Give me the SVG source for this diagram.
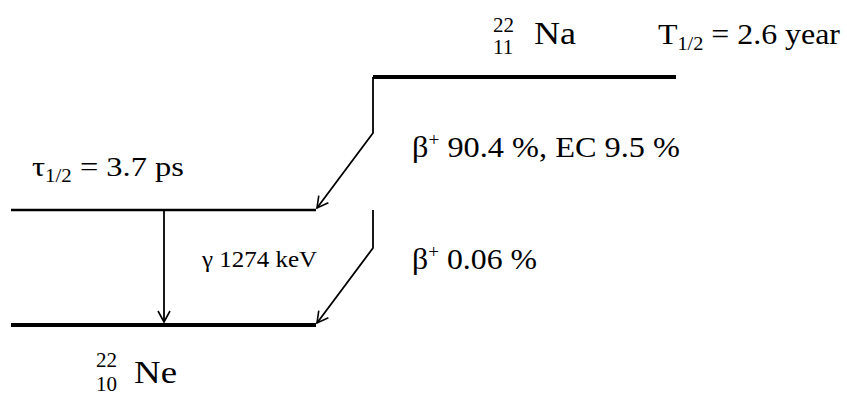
<svg xmlns="http://www.w3.org/2000/svg" width="847" height="396" viewBox="0 0 847 396" font-family="'Liberation Serif', 'Times New Roman', serif">
<defs>
<marker id="ah" markerUnits="userSpaceOnUse" markerWidth="14" markerHeight="14" viewBox="0 0 14 14" refX="12" refY="7" orient="auto">
<path d="M1,1 L12,7 L1,13" fill="none" stroke="#000" stroke-width="1.6"/>
</marker>
<style>
text{font-family:'Liberation Serif','Times New Roman',serif;fill:#000}
.lvl{stroke:#000;fill:none}
.thick{stroke-width:4}
.thin{stroke-width:2.5}
.con{stroke:#000;stroke-width:1.8;fill:none;marker-end:url(#ah)}
</style>
</defs>
<rect width="847" height="396" fill="#fff"/>
<g id="na22">
<text x="493" y="32" font-size="21">22</text>
<text x="493" y="54" font-size="21">11</text>
<text x="534" y="44" font-size="32" textLength="42" lengthAdjust="spacingAndGlyphs">Na</text>
<line class="lvl thick" x1="373" y1="77" x2="676" y2="77"/>
</g>
<g id="na-halflife">
<text x="658" y="44" font-size="30" textLength="182" lengthAdjust="spacingAndGlyphs">T<tspan font-size="19" dy="6">1/2</tspan><tspan dy="-6"> = 2.6 year</tspan></text>
</g>
<g id="ne22-excited">
<line class="lvl thin" x1="11" y1="210" x2="316" y2="210"/>
<text x="32" y="176" font-size="28" textLength="152" lengthAdjust="spacingAndGlyphs">τ<tspan font-size="18" dy="6">1/2</tspan><tspan dy="-6"> = 3.7 ps</tspan></text>
</g>
<g id="ne22">
<line class="lvl thick" x1="11" y1="325" x2="316" y2="325"/>
<text x="96" y="367" font-size="21">22</text>
<text x="96" y="391" font-size="21">10</text>
<text x="134" y="383" font-size="32" textLength="43" lengthAdjust="spacingAndGlyphs">Ne</text>
</g>
<g id="connectors">
<polyline class="con" points="373,77 373,133 317,208"/>
<polyline class="con" points="373,210 373,248 317,323"/>
<line class="con" x1="164" y1="210" x2="164" y2="322"/>
<text x="412" y="157" font-size="30" textLength="268" lengthAdjust="spacingAndGlyphs">β<tspan font-size="18" dy="-11">+</tspan><tspan dy="11"> 90.4 %, EC 9.5 %</tspan></text>
<text x="412" y="269" font-size="30" textLength="125" lengthAdjust="spacingAndGlyphs">β<tspan font-size="18" dy="-11">+</tspan><tspan dy="11"> 0.06 %</tspan></text>
<text x="202" y="267" font-size="24" textLength="115" lengthAdjust="spacingAndGlyphs">γ 1274 keV</text>
</g>
</svg>
